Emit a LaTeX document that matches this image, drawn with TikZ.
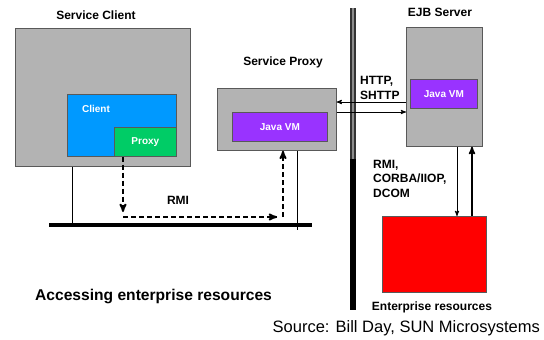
\documentclass[tikz,border=0pt]{standalone}
\usepackage{fontspec}
\setmainfont{Liberation Sans}
\usetikzlibrary{arrows,calc}

\definecolor{boxgray}{HTML}{B3B3B3}
\definecolor{clientblue}{HTML}{0099FF}
\definecolor{proxygreen}{HTML}{00CC66}
\definecolor{vmpurple}{HTML}{9933FF}

\tikzset{
  box/.style={draw=black!65, line width=.7pt, anchor=north west, inner sep=0pt},
  graybox/.style={box, fill=boxgray},
  vmbox/.style={box, fill=vmpurple, font=\fontsize{10}{12}\selectfont\bfseries, text=white},
  title/.style={font=\fontsize{12}{14.5}\selectfont\bfseries, inner sep=0pt},
  rmiflow/.style={->, >=stealth', line width=1.8pt, dash pattern=on 5pt off 3pt},
}

\begin{document}
\begin{tikzpicture}[x=1pt,y=-1pt]
    \useasboundingbox[fill=white] (0,0) rectangle (544,340);

    % service client
    \node[graybox, minimum width=175, minimum height=138] (sc) at (15,28) {};
    \node[box, fill=clientblue, minimum width=109, minimum height=62] (client) at (67,94) {};
    \node[box, fill=proxygreen, minimum width=62, minimum height=29, text=white,
          font=\fontsize{10}{12}\selectfont\bfseries] (proxy) at (114,127) {Proxy};
    \node[title, text=white, font=\fontsize{10}{12}\selectfont\bfseries] (clientlbl) at (96,109) {Client};
    \node[title] (sclbl) at (96,15) {Service Client};

    % service proxy
    \node[graybox, minimum width=119, minimum height=62] (sp) at (217,88) {};
    \node[vmbox, minimum width=95, minimum height=29] (spvm) at (232,112) {Java VM};
    \node[title] (splbl) at (283,62) {Service Proxy};

    % ejb server
    \node[graybox, minimum width=76, minimum height=119] (ejb) at (406,27) {};
    \node[vmbox, minimum width=67, minimum height=29] (ejbvm) at (410,79) {Java VM};
    \node[title] (ejblbl) at (440,12) {EJB Server};

    % enterprise resources
    \node[box, fill=red, minimum width=104, minimum height=76] (res) at (382,216) {};
    \node[title] (reslbl) at (432,307) {Enterprise resources};

    % network bus
    \coordinate (busL) at (49,225);
    \coordinate (busR) at (312,225);
    \draw[line width=4pt] (busL) -- (busR);
    \coordinate (tapC) at (72,225);
    \coordinate (tapP) at (297,230);
    \draw[line width=.6pt] (tapC |- sc.south) -- (tapC);
    \draw[line width=.6pt] (tapP |- sp.south) -- (tapP);

    % firewall
    \coordinate (fwT) at (353,8);
    \coordinate (fwM) at (353,159);
    \coordinate (fwB) at (353,310);
    \draw[line width=6pt, black!80] (fwT) -- (fwM);
    \draw[line width=2.6pt, black!45] (fwT) -- (fwM);
    \draw[line width=5.5pt] (fwM) -- (fwB);

    % rmi path
    \coordinate (rmiA) at (123,212);
    \coordinate (rmiB) at (123,217);
    \coordinate (rmiC) at (277,217);
    \coordinate (rmiD) at (283,217);
    \draw[rmiflow] (rmiA |- proxy.south) -- (rmiA);
    \draw[rmiflow, -] (rmiB) -- (rmiC);
    \draw[rmiflow] ([xshift=-8pt]rmiC) -- (rmiC);
    \draw[rmiflow] (rmiD) -- (rmiD |- sp.south);
    \node[title] (rmilbl) at (178,200) {RMI};

    % http
    \draw[->, >=stealth', line width=.9pt] ([yshift=-75pt]ejb.north west) -- ([yshift=-75pt]ejb.north west -| sp.east);
    \draw[->, >=stealth', line width=.9pt] ([yshift=-85pt]ejb.north west -| sp.east) -- ([yshift=-85pt]ejb.north west);
    \node[title, align=left, anchor=west] (httplbl) at (360,88) {HTTP,\\SHTTP};

    % ejb <-> resources
    \coordinate (dnX) at (457,0);
    \coordinate (upX) at (472,0);
    \draw[->, >=stealth', line width=.9pt] (dnX |- ejb.south) -- (dnX |- res.north);
    \draw[->, >=stealth', line width=1.6pt] (upX |- res.north) -- (upX |- ejb.south);
    \node[title, align=left, anchor=north west] (protolbl) at (373,160) {RMI,\\CORBA/IIOP,\\DCOM};

    \node[font=\fontsize{15.6}{18}\selectfont\bfseries, anchor=west, inner sep=0pt] (caption) at (35,296) {Accessing enterprise resources};
    \node[font=\fontsize{16.5}{19}\selectfont, anchor=east, inner sep=0pt] (source) at (540,328) {Source: Bill Day, SUN Microsystems};
\end{tikzpicture}
\end{document}
